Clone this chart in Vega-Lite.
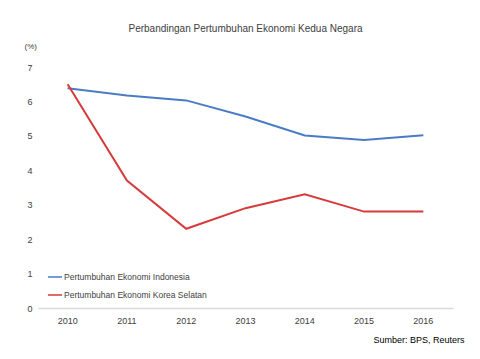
{
  "$schema": "https://vega.github.io/schema/vega-lite/v6.json",
  "width": 415,
  "height": 241,
  "padding": {"left": 38, "top": 67, "right": 27, "bottom": 51},
  "autosize": {"type": "none"},
  "background": "white",
  "title": {
    "text": "Perbandingan Pertumbuhan Ekonomi Kedua Negara",
    "font": "Liberation Sans",
    "fontSize": 10,
    "fontWeight": "normal",
    "color": "#404040",
    "anchor": "middle",
    "offset": 8
  },
  "config": {
    "view": {"stroke": null},
    "font": "Liberation Sans"
  },
  "data": {
    "values": [
      {"tahun": "2010", "negara": "Pertumbuhan Ekonomi Indonesia", "nilai": 6.38},
      {"tahun": "2011", "negara": "Pertumbuhan Ekonomi Indonesia", "nilai": 6.17},
      {"tahun": "2012", "negara": "Pertumbuhan Ekonomi Indonesia", "nilai": 6.03},
      {"tahun": "2013", "negara": "Pertumbuhan Ekonomi Indonesia", "nilai": 5.56},
      {"tahun": "2014", "negara": "Pertumbuhan Ekonomi Indonesia", "nilai": 5.01},
      {"tahun": "2015", "negara": "Pertumbuhan Ekonomi Indonesia", "nilai": 4.88},
      {"tahun": "2016", "negara": "Pertumbuhan Ekonomi Indonesia", "nilai": 5.02},
      {"tahun": "2010", "negara": "Pertumbuhan Ekonomi Korea Selatan", "nilai": 6.5},
      {"tahun": "2011", "negara": "Pertumbuhan Ekonomi Korea Selatan", "nilai": 3.7},
      {"tahun": "2012", "negara": "Pertumbuhan Ekonomi Korea Selatan", "nilai": 2.3},
      {"tahun": "2013", "negara": "Pertumbuhan Ekonomi Korea Selatan", "nilai": 2.9},
      {"tahun": "2014", "negara": "Pertumbuhan Ekonomi Korea Selatan", "nilai": 3.3},
      {"tahun": "2015", "negara": "Pertumbuhan Ekonomi Korea Selatan", "nilai": 2.8},
      {"tahun": "2016", "negara": "Pertumbuhan Ekonomi Korea Selatan", "nilai": 2.8}
    ]
  },
  "mark": {"type": "line", "strokeWidth": 2},
  "encoding": {
    "x": {
      "field": "tahun",
      "type": "ordinal",
      "scale": {"type": "band", "paddingInner": 0, "paddingOuter": 0},
      "axis": {
        "title": "Sumber: BPS, Reuters",
        "titleFont": "Liberation Sans",
        "titleFontSize": 9,
        "titleFontWeight": "normal",
        "titleColor": "#000000",
        "titleAnchor": "end",
        "titleAlign": "right",
        "titleX": 426,
        "titleY": 27,
        "labelAngle": 0,
        "labelFontSize": 9,
        "labelColor": "#404040",
        "labelPadding": 8,
        "ticks": false,
        "domainColor": "#d9d9d9",
        "domainWidth": 1.5,
        "grid": false
      }
    },
    "y": {
      "field": "nilai",
      "type": "quantitative",
      "scale": {"domain": [0, 7], "nice": false},
      "axis": {
        "title": "(%)",
        "titleAngle": 0,
        "titleFontSize": 8,
        "titleFontWeight": "normal",
        "titleColor": "#404040",
        "titleX": -14,
        "titleY": -17,
        "titleAlign": "left",
        "values": [0, 1, 2, 3, 4, 5, 6, 7],
        "labelFontSize": 9,
        "labelColor": "#404040",
        "labelAlign": "left",
        "labelPadding": 11,
        "ticks": false,
        "domain": false,
        "grid": false
      }
    },
    "color": {
      "field": "negara",
      "type": "nominal",
      "scale": {
        "domain": ["Pertumbuhan Ekonomi Indonesia", "Pertumbuhan Ekonomi Korea Selatan"],
        "range": ["#4a7cc6", "#d63a3a"]
      },
      "legend": {
        "title": null,
        "orient": "none",
        "legendX": 9,
        "legendY": 202,
        "symbolType": "stroke",
        "symbolSize": 200,
        "symbolStrokeWidth": 1.5,
        "labelFontSize": 8.5,
        "labelColor": "#404040",
        "labelOffset": 1,
        "rowPadding": 5
      }
    }
  }
}
